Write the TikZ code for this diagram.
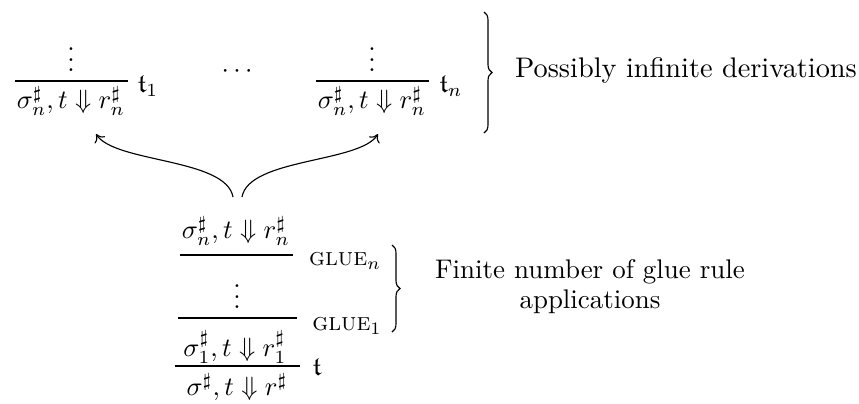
\documentclass[tikz,border=0pt]{standalone}
\usepackage{amssymb}
\usetikzlibrary{arrows.meta,decorations.pathreplacing}
\newcommand\jdg[2]{$\sigma^\sharp_{#1}, t \Downarrow r^\sharp_{#2}$}
\begin{document}
\begin{tikzpicture}[x=0.4pt,y=0.4pt,
  lbl/.style={inner sep=0pt},
  mth/.style={inner sep=0pt, scale=1.06},
  txt/.style={inner sep=0pt, scale=1.1},
  bar/.style={line width=0.45pt},
  brc/.style={decorate, decoration={brace, amplitude=3.2pt}, line width=0.45pt},
  arr/.style={-{To[length=3pt,width=5pt]}, line width=0.45pt}]
\useasboundingbox (0,0) rectangle (859,403);
% top left derivation
\node[mth] (v1) at (71,351) {$\vdots$};
\draw[bar] (15,322) -- (128,322);
\node[mth] (d1) at (71,302) {\jdg{n}{n}};
\node[mth] (t1) at (148,317) {$\mathfrak{t}_1$};
% dots
\node[mth] (cd) at (237,331) {$\cdots$};
% top right derivation
\node[mth] (v2) at (372,351) {$\vdots$};
\draw[bar] (316,322) -- (429,322);
\node[mth] (d2) at (372,302) {\jdg{n}{n}};
\node[mth] (tn) at (451,317) {$\mathfrak{t}_n$};
% brace top
\coordinate (b1a) at (484,391);
\coordinate (b1b) at (484,270);
\draw[brc] (b1a) -- (b1b);
\node[txt, scale=1.03] (p) at (686,333) {Possibly infinite derivations};
% bottom derivation
\node[mth] (n1) at (236,172) {\jdg{n}{n}};
\draw[bar] (180,148) -- (293,148);
\node[lbl] (gn) at (345,142) {\textsc{glue}$_n$};
\node[mth] (v3) at (237,114) {$\vdots$};
\draw[bar] (178,85) -- (297,85);
\node[lbl] (g1) at (347,77) {\textsc{glue}$_1$};
\coordinate (b2a) at (392,158);
\coordinate (b2b) at (392,71);
\draw[brc] (b2a) -- (b2b);
\node[txt, scale=0.98, align=center, font={\fontsize{10}{11.1}\selectfont}] (f) at (590,116) {Finite number of glue rule\\applications};
\node[mth] (n2) at (235,56) {\jdg{1}{1}};
\draw[bar] (175,37) -- (300,37);
\node[mth] (tt) at (317,36) {$\mathfrak{t}$};
\node[mth] (n3) at (237,15) {\jdg{}{}};
% arrows
\coordinate (s1) at (233,206);
\coordinate (s2) at (242,206);
\coordinate (e1) at (96,269);
\coordinate (e2) at (378,269);
\draw[arr] (s1) .. controls (226,245) and (115,240) .. (e1);
\draw[arr] (s2) .. controls (249,245) and (360,240) .. (e2);
\end{tikzpicture}
\end{document}
